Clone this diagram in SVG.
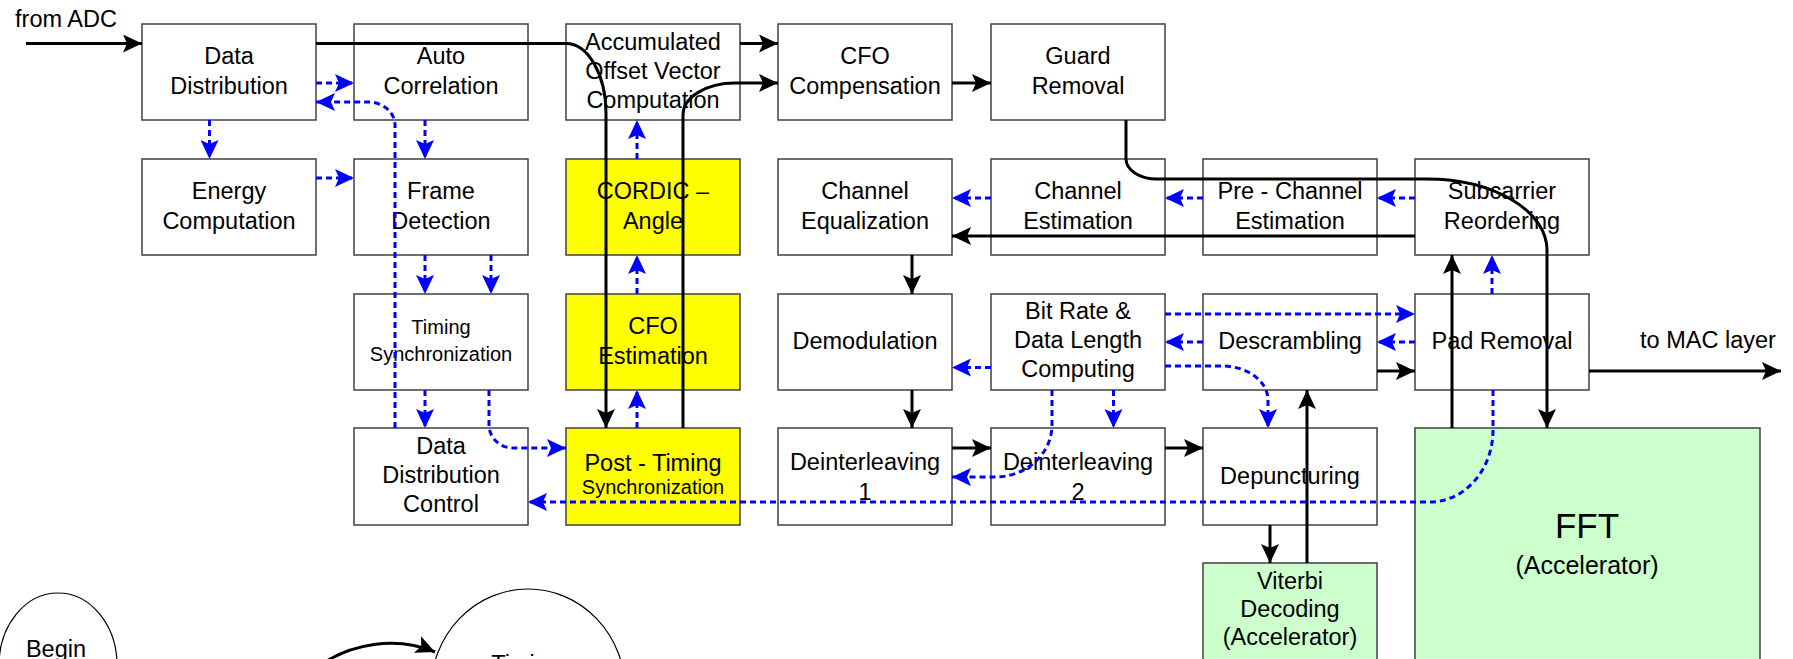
<svg xmlns="http://www.w3.org/2000/svg" width="1793" height="659" viewBox="0 0 1793 659">
  <style>
    .box { fill: #ffffff; stroke: #404040; stroke-width: 1.5; }
    .yel { fill: #ffff00; stroke: #404040; stroke-width: 1.5; }
    .grn { fill: #ccffcc; stroke: #404040; stroke-width: 1.5; }
    .ell { fill: #ffffff; stroke: #000000; stroke-width: 1.2; }
    text { font-family: "Liberation Sans", Arial, sans-serif; fill: #000000; text-anchor: middle; }
    .t { font-size: 23.5px; }
    .s { font-size: 20px; }
    .k { fill: none; stroke: #000000; stroke-width: 3; marker-end: url(#ak); }
    .b { fill: none; stroke: #0000ff; stroke-width: 3; stroke-dasharray: 6 4; marker-end: url(#ab); }
  </style>
  <defs>
    <marker id="ak" viewBox="0 0 19 18" refX="19" refY="9" markerWidth="19" markerHeight="18" markerUnits="userSpaceOnUse" orient="auto">
      <path d="M0,0 L19,9 L0,18 L4,9 Z" fill="#000000"/>
    </marker>
    <marker id="ab" viewBox="0 0 19 18" refX="19" refY="9" markerWidth="19" markerHeight="18" markerUnits="userSpaceOnUse" orient="auto">
      <path d="M0,0 L19,9 L0,18 L4,9 Z" fill="#0000ff"/>
    </marker>
  </defs>

  <rect width="1793" height="659" fill="#ffffff"/>

  <!-- free labels -->
  <text class="t" x="66" y="27">from ADC</text>
  <text class="t" x="1708" y="348">to MAC layer</text>

  <!-- row 1 -->
  <g id="data-distribution">
    <rect class="box" x="142" y="24" width="174" height="96"/>
    <text class="t" x="229" y="64">Data</text>
    <text class="t" x="229" y="93.5">Distribution</text>
  </g>
  <g id="auto-correlation">
    <rect class="box" x="354" y="24" width="174" height="96"/>
    <text class="t" x="441" y="64">Auto</text>
    <text class="t" x="441" y="93.5">Correlation</text>
  </g>
  <g id="accumulated-offset">
    <rect class="box" x="566" y="24" width="174" height="96"/>
    <text class="t" x="653" y="49.5">Accumulated</text>
    <text class="t" x="653" y="78.5">Offset Vector</text>
    <text class="t" x="653" y="107.5">Computation</text>
  </g>
  <g id="cfo-compensation">
    <rect class="box" x="778" y="24" width="174" height="96"/>
    <text class="t" x="865" y="64">CFO</text>
    <text class="t" x="865" y="93.5">Compensation</text>
  </g>
  <g id="guard-removal">
    <rect class="box" x="991" y="24" width="174" height="96"/>
    <text class="t" x="1078" y="64">Guard</text>
    <text class="t" x="1078" y="93.5">Removal</text>
  </g>

  <!-- row 2 -->
  <g id="energy-computation">
    <rect class="box" x="142" y="159" width="174" height="96"/>
    <text class="t" x="229" y="199">Energy</text>
    <text class="t" x="229" y="228.5">Computation</text>
  </g>
  <g id="frame-detection">
    <rect class="box" x="354" y="159" width="174" height="96"/>
    <text class="t" x="441" y="199">Frame</text>
    <text class="t" x="441" y="228.5">Detection</text>
  </g>
  <g id="cordic-angle">
    <rect class="yel" x="566" y="159" width="174" height="96"/>
    <text class="t" x="653" y="199">CORDIC –</text>
    <text class="t" x="653" y="228.5">Angle</text>
  </g>
  <g id="channel-equalization">
    <rect class="box" x="778" y="159" width="174" height="96"/>
    <text class="t" x="865" y="199">Channel</text>
    <text class="t" x="865" y="228.5">Equalization</text>
  </g>
  <g id="channel-estimation">
    <rect class="box" x="991" y="159" width="174" height="96"/>
    <text class="t" x="1078" y="199">Channel</text>
    <text class="t" x="1078" y="228.5">Estimation</text>
  </g>
  <g id="pre-channel-estimation">
    <rect class="box" x="1203" y="159" width="174" height="96"/>
    <text class="t" x="1290" y="199">Pre - Channel</text>
    <text class="t" x="1290" y="228.5">Estimation</text>
  </g>
  <g id="subcarrier-reordering">
    <rect class="box" x="1415" y="159" width="174" height="96"/>
    <text class="t" x="1502" y="199">Subcarrier</text>
    <text class="t" x="1502" y="228.5">Reordering</text>
  </g>

  <!-- row 3 -->
  <g id="timing-synchronization">
    <rect class="box" x="354" y="294" width="174" height="96"/>
    <text class="s" x="441" y="334">Timing</text>
    <text class="s" x="441" y="361">Synchronization</text>
  </g>
  <g id="cfo-estimation">
    <rect class="yel" x="566" y="294" width="174" height="96"/>
    <text class="t" x="653" y="334">CFO</text>
    <text class="t" x="653" y="363.5">Estimation</text>
  </g>
  <g id="demodulation">
    <rect class="box" x="778" y="294" width="174" height="96"/>
    <text class="t" x="865" y="349">Demodulation</text>
  </g>
  <g id="bit-rate-data-length">
    <rect class="box" x="991" y="294" width="174" height="96"/>
    <text class="t" x="1078" y="319">Bit Rate &amp;</text>
    <text class="t" x="1078" y="348">Data Length</text>
    <text class="t" x="1078" y="377">Computing</text>
  </g>
  <g id="descrambling">
    <rect class="box" x="1203" y="294" width="174" height="96"/>
    <text class="t" x="1290" y="349">Descrambling</text>
  </g>
  <g id="pad-removal">
    <rect class="box" x="1415" y="294" width="174" height="96"/>
    <text class="t" x="1502" y="349">Pad Removal</text>
  </g>

  <!-- row 4 -->
  <g id="data-distribution-control">
    <rect class="box" x="354" y="428" width="174" height="97"/>
    <text class="t" x="441" y="453.5">Data</text>
    <text class="t" x="441" y="482.5">Distribution</text>
    <text class="t" x="441" y="511.5">Control</text>
  </g>
  <g id="post-timing-synchronization">
    <rect class="yel" x="566" y="428" width="174" height="97"/>
    <text class="t" x="653" y="470.5">Post - Timing</text>
    <text class="s" x="653" y="493.5">Synchronization</text>
  </g>
  <g id="deinterleaving-1">
    <rect class="box" x="778" y="428" width="174" height="97"/>
    <text class="t" x="865" y="469.5">Deinterleaving</text>
    <text class="t" x="865" y="499.5">1</text>
  </g>
  <g id="deinterleaving-2">
    <rect class="box" x="991" y="428" width="174" height="97"/>
    <text class="t" x="1078" y="469.5">Deinterleaving</text>
    <text class="t" x="1078" y="499.5">2</text>
  </g>
  <g id="depuncturing">
    <rect class="box" x="1203" y="428" width="174" height="97"/>
    <text class="t" x="1290" y="483.5">Depuncturing</text>
  </g>
  <g id="fft">
    <rect class="grn" x="1415" y="428" width="345" height="260"/>
    <text x="1587" y="538" style="font-size:35px">FFT</text>
    <text x="1587" y="574" style="font-size:25px">(Accelerator)</text>
  </g>
  <g id="viterbi-decoding">
    <rect class="grn" x="1203" y="563" width="174" height="130"/>
    <text class="t" x="1290" y="589">Viterbi</text>
    <text class="t" x="1290" y="617">Decoding</text>
    <text class="t" x="1290" y="645">(Accelerator)</text>
  </g>

  <!-- state bubbles -->
  <g id="begin-state">
    <ellipse class="ell" cx="58" cy="665" rx="59" ry="72"/>
    <text class="t" x="56" y="657">Begin</text>
  </g>
  <g id="timing-state">
    <ellipse class="ell" cx="528" cy="690" rx="97" ry="101"/>
    <text class="t" x="526" y="672">Timing</text>
  </g>

  <g id="connectors">
    <!-- data path (solid) -->
    <path class="k" d="M26 43.5 H142"/>
    <path class="k" d="M316 43.5 H566 A40 70 0 0 1 606 113.5 V428"/>
    <path class="k" d="M683 428 V115 A52 32 0 0 1 735 83 H778"/>
    <path class="k" d="M740 43.5 H778"/>
    <path class="k" d="M952 83 H991"/>
    <path class="k" d="M1126 120 V159 A31 20 0 0 0 1157 179 H1427 A120 71 0 0 1 1547 250 V428"/>
    <path class="k" d="M1415 236 H952"/>
    <path class="k" d="M912 255 V294"/>
    <path class="k" d="M912 390 V428"/>
    <path class="k" d="M952 448 H991"/>
    <path class="k" d="M1165 448 H1203"/>
    <path class="k" d="M1270 525 V563"/>
    <path class="k" d="M1307 563 V390"/>
    <path class="k" d="M1377 371 H1415"/>
    <path class="k" d="M1589 371 H1781"/>
    <path class="k" d="M1452 428 V255"/>
    <path class="k" d="M322 664 C350 645 395 635 435 652"/>

    <!-- control path (dashed) -->
    <path class="b" d="M316 83 H354"/>
    <path class="b" d="M395 428 V125 A27 23 0 0 0 368 102 H316"/>
    <path class="b" d="M209.5 120 V159"/>
    <path class="b" d="M425 120 V159"/>
    <path class="b" d="M316 178 H354"/>
    <path class="b" d="M425 255 V294"/>
    <path class="b" d="M491 255 V294"/>
    <path class="b" d="M425 390 V428"/>
    <path class="b" d="M489 390 V425 A24 23 0 0 0 513 448 H566"/>
    <path class="b" d="M637 428 V390"/>
    <path class="b" d="M637 294 V255"/>
    <path class="b" d="M637 159 V120"/>
    <path class="b" d="M991 198 H952"/>
    <path class="b" d="M1203 198 H1165"/>
    <path class="b" d="M1415 198 H1377"/>
    <path class="b" d="M1492 294 V255"/>
    <path class="b" d="M1165 314 H1415"/>
    <path class="b" d="M1203 342 H1165"/>
    <path class="b" d="M1415 342 H1377"/>
    <path class="b" d="M991 367.5 H952"/>
    <path class="b" d="M1113.5 390 V428"/>
    <path class="b" d="M1165 366 H1222 A46 34 0 0 1 1268 400 V428"/>
    <path class="b" d="M1052 390 V425 A57 52 0 0 1 995 477 H952"/>
    <path class="b" d="M1493 390 V430 A63 72 0 0 1 1430 502 H528"/>
  </g>
</svg>
